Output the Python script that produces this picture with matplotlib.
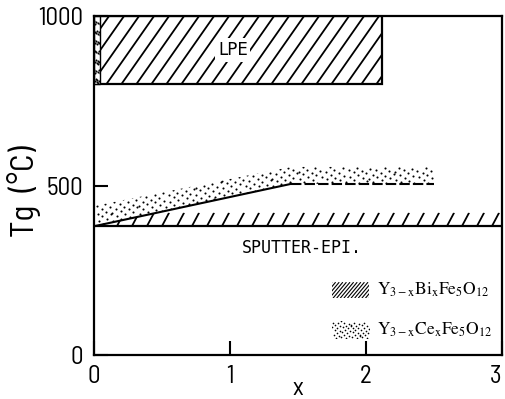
import numpy as np
import matplotlib
matplotlib.use("Agg")
import matplotlib.pyplot as plt
from matplotlib.patches import Rectangle, Polygon
from matplotlib.collections import LineCollection
from matplotlib.transforms import IdentityTransform

plt.rcParams['mathtext.fontset'] = 'stix'

NARROW = ['Barlow Semi Condensed', 'Liberation Sans']

# LPE growth window (x range, Tg range)
lpe_x = [0.0, 2.12]
lpe_tg = [800, 1000]
lpe_ce_x = [0.0, 0.045]

# sputter-epitaxy, Bi substituted: band just above the baseline
bi_x = [0.0, 0.47, 3.0]
bi_top = [380, 420, 420]
bi_base = 380

# sputter-epitaxy, Ce substituted
ce_x = [0.0, 1.45]
ce_tg = [380, 505]
ce_flat_x = [1.45, 2.5]
ce_flat_tg = [505, 505]
ce_band_x = [0.0, 1.45, 2.5]
ce_band_top = [440, 555, 555]

xticks = [0, 1, 2, 3]
yticks = [0, 500, 1000]


def hatch(ax, patch, spacing, angle, lw=1.2):
    # diagonal strokes in pixel space, clipped to the patch outline
    x0, y0, x1, y1 = patch.get_window_extent().extents
    h = y1 - y0
    run = h / np.tan(np.radians(angle))
    starts = np.arange(x0 - run - spacing, x1 + spacing, spacing)
    segs = [[(s, y0), (s + run, y1)] for s in starts]
    lc = LineCollection(segs, colors='black', linewidths=lw, transform=IdentityTransform())
    ax.add_collection(lc, autolim=False)
    lc.set_clip_path(patch)


def stipple(ax, patch, step, ms=1.6):
    # evenly spread dots (R2 low-discrepancy sequence), clipped to the patch
    x0, y0, x1, y1 = patch.get_window_extent().extents
    n = int((x1 - x0) * (y1 - y0) / step ** 2)
    k = np.arange(1, n + 1)
    u = (0.5 + k * 0.7548776662) % 1.0
    v = (0.5 + k * 0.5698402910) % 1.0
    ln, = ax.plot(x0 + u * (x1 - x0), y0 + v * (y1 - y0), 'o', ms=ms, mew=0,
                  color='black', transform=IdentityTransform())
    ln.set_clip_path(patch)


fig = plt.figure(figsize=(5.06, 3.99), dpi=100)
ax = fig.add_axes([0.186, 0.110, 0.806, 0.850])
ax.set_xlim(0, 3)
ax.set_ylim(0, 1000)

# LPE box
lpe = Rectangle((lpe_x[0], lpe_tg[0]), lpe_x[1] - lpe_x[0], lpe_tg[1] - lpe_tg[0],
                facecolor='white', edgecolor='black', lw=1.6, zorder=1)
ax.add_patch(lpe)
hatch(ax, lpe, 15, 55, lw=1.3)
lpe_ce = Rectangle((lpe_ce_x[0], lpe_tg[0]), lpe_ce_x[1] - lpe_ce_x[0], lpe_tg[1] - lpe_tg[0],
                   facecolor='white', edgecolor='black', lw=1.0, zorder=2)
ax.add_patch(lpe_ce)
stipple(ax, lpe_ce, 3.2, ms=1.5)
ax.text(1.02, 900, 'LPE', ha='center', va='center', fontsize=12, family='DejaVu Sans',
        bbox=dict(facecolor='white', edgecolor='none', pad=2), zorder=5)

# Ce stipple above the line
ce_poly = list(zip(ce_band_x, ce_band_top)) + [(ce_flat_x[1], ce_flat_tg[1]),
                                               (ce_x[1], ce_tg[1]), (ce_x[0], ce_tg[0])]
ce_patch = Polygon(ce_poly, closed=True, facecolor='none', edgecolor='none')
ax.add_patch(ce_patch)
stipple(ax, ce_patch, 5.6, ms=1.5)

# Bi hatch band
bi_poly = list(zip(bi_x, bi_top)) + [(bi_x[-1], bi_base), (bi_x[0], bi_base)]
bi_patch = Polygon(bi_poly, closed=True, facecolor='none', edgecolor='none')
ax.add_patch(bi_patch)
hatch(ax, bi_patch, 15, 62, lw=1.3)

ax.plot([0, 3], [bi_base, bi_base], color='black', lw=1.6)
ax.plot(ce_x, ce_tg, color='black', lw=1.5)
ax.plot(ce_flat_x, ce_flat_tg, color='black', lw=1.5, dashes=(5, 1.5))

ax.text(1.53, 316, 'SPUTTER-EPI.', ha='center', va='center', fontsize=12,
        family='DejaVu Sans Mono')

# legend swatches
sw_bi = Rectangle((1.75, 168), 0.27, 47, facecolor='none', edgecolor='none')
sw_ce = Rectangle((1.75, 50), 0.27, 50, facecolor='none', edgecolor='none')
ax.add_patch(sw_bi)
ax.add_patch(sw_ce)
hatch(ax, sw_bi, 3.6, 50, lw=0.8)
stipple(ax, sw_ce, 3.4, ms=1.2)
ax.text(2.08, 192, r'$\mathrm{Y_{3-x}Bi_xFe_5O_{12}}$', ha='left', va='center', fontsize=12.5)
ax.text(2.08, 74, r'$\mathrm{Y_{3-x}Ce_xFe_5O_{12}}$', ha='left', va='center', fontsize=12.5)

tickfont = dict(family=NARROW, size=18)
ax.set_xticks(xticks)
ax.set_yticks(yticks)
ax.set_xticklabels([str(v) for v in xticks], fontdict=tickfont)
ax.set_yticklabels([str(v) for v in yticks], fontdict=tickfont)
ax.get_xticklabels()[-1].set_ha('right')
ax.tick_params(direction='in', length=10, width=1.5, pad=8)
ax.tick_params(axis='x', pad=7)
for s in ax.spines.values():
    s.set_linewidth(1.6)
    s.set_zorder(6)

ax.set_xlabel('x', fontsize=18, family=NARROW)
ax.xaxis.set_label_coords(0.5, -0.064)
ax.set_ylabel('Tg  (°C)', fontsize=24, family=NARROW)
ax.yaxis.set_label_coords(-0.13, 0.484)

fig.savefig('out.png', dpi=100)
